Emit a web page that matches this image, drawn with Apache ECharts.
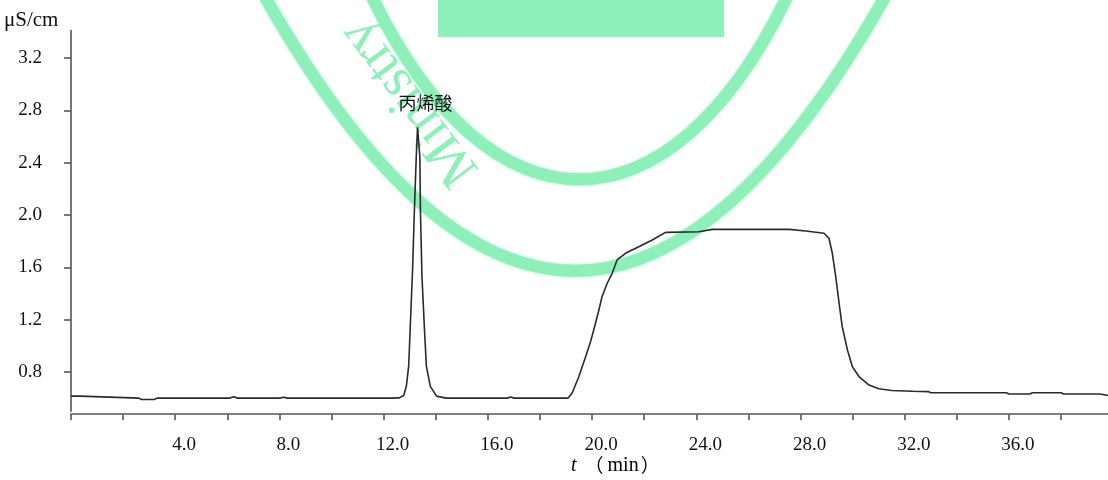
<!DOCTYPE html>
<html>
<head>
<meta charset="utf-8">
<script src="https://cdn.jsdelivr.net/npm/echarts@6/dist/echarts.min.js"></script>
<style>
html,body{margin:0;padding:0;background:#fff;}
#chart{width:1108px;height:480px;}
</style>
</head>
<body>
<div id="chart"></div>
<script>
// ---- data (t in min, conductivity in µS/cm) ----
const timeMin = [
  0, 0.35, 0.4, 2.6, 2.7, 3.2, 3.3, 6.1, 6.24, 6.4, 8.0, 8.16, 8.3, 12.3,
  12.6, 12.77, 12.87, 12.96, 13.02, 13.11, 13.18, 13.25, 13.30, 13.39, 13.41, 13.47, 13.57, 13.64, 13.79, 14.03, 14.4,
  16.75, 16.87, 17.0, 19.08,
  19.23, 19.49, 19.75, 19.94, 20.13, 20.26, 20.38, 20.58, 20.77, 20.96, 21.28, 21.79, 22.31, 22.82, 24.10, 24.61,
  27.56, 28.20, 28.90, 29.09, 29.22, 29.35, 29.48, 29.60, 29.80, 29.99, 30.25, 30.63,
  31.0, 31.5, 32.3, 32.9, 33.0, 35.9, 36.0, 36.8, 36.9, 38.0, 38.1, 39.5, 39.8
];
const conductivity = [
  0.615, 0.615, 0.600, 0.600, 0.590, 0.590, 0.600, 0.600, 0.610, 0.600, 0.600, 0.607, 0.600, 0.600,
  0.602, 0.620, 0.690, 0.845, 1.140, 1.585, 2.040, 2.440, 2.670, 2.440, 2.040, 1.530, 1.110, 0.845, 0.690, 0.615, 0.600,
  0.600, 0.608, 0.600, 0.600,
  0.637, 0.763, 0.916, 1.031, 1.172, 1.273, 1.375, 1.478, 1.554, 1.656, 1.707, 1.757, 1.809, 1.867, 1.872, 1.890,
  1.890, 1.877, 1.860, 1.822, 1.707, 1.528, 1.325, 1.146, 0.968, 0.840, 0.763, 0.700,
  0.672, 0.658, 0.652, 0.650, 0.641, 0.641, 0.631, 0.631, 0.641, 0.641, 0.631, 0.631, 0.620
];
const xTickValues = [0, 2, 4, 6, 8, 10, 12, 14, 16, 18, 20, 22, 24, 26, 28, 30, 32, 34, 36, 38];
const xLabelValues = [4, 8, 12, 16, 20, 24, 28, 32, 36];
const yLabelValues = [0.8, 1.2, 1.6, 2.0, 2.4, 2.8, 3.2];
const peakName = '丙烯酸';
const peakTime = 13.30;
const peakValue = 2.670;
const yUnit = 'μS/cm';

const seriesData = timeMin.map((t, i) => [t, conductivity[i]]);
const serif = '"Liberation Serif", "Times New Roman", serif';
const cjk = '"Noto Sans CJK SC", sans-serif';
const green = '#8ef0b9';

const chart = echarts.init(document.getElementById('chart'), null, {renderer: 'canvas'});
chart.setOption({
  animation: false,
  backgroundColor: '#fff',
  grid: {left: 71, right: 0, top: 30.5, bottom: 68.8, containLabel: false},
  xAxis: {
    type: 'value', min: 0, max: 39.8, offset: 3,
    axisLine: {show: true, lineStyle: {color: '#555', width: 1.6}},
    axisTick: {show: true, length: 6, customValues: xTickValues, lineStyle: {color: '#555', width: 1.6}},
    axisLabel: {customValues: xLabelValues, formatter: v => Number(v).toFixed(1), fontFamily: serif, fontSize: 19, color: '#111', margin: 21, padding: [0, 0, 0, 18]},
    splitLine: {show: false}
  },
  yAxis: {
    type: 'value', min: 0.5, max: 3.41,
    axisLine: {show: true, lineStyle: {color: '#555', width: 1.6}},
    axisTick: {show: true, length: 7, customValues: yLabelValues, lineStyle: {color: '#555', width: 1.6}},
    axisLabel: {customValues: yLabelValues, formatter: v => Number(v).toFixed(1), fontFamily: serif, fontSize: 19, color: '#111', margin: 29},
    splitLine: {show: false}
  },
  graphic: [
    {type: 'rect', z: -10, shape: {x: 438, y: 0, width: 286, height: 37}, style: {fill: green}},
    {type: 'bezierCurve', z: -10, shape: {x1: 372, y1: -3, cpx1: 490, cpy1: 240, cpx2: 669, cpy2: 240, x2: 787, y2: -3}, style: {fill: null, stroke: green, lineWidth: 12, shadowBlur: 3, shadowColor: green}},
    {type: 'bezierCurve', z: -10, shape: {x1: 265, y1: -3, cpx1: 472, cpy1: 362, cpx2: 678, cpy2: 362, x2: 885, y2: -3}, style: {fill: null, stroke: green, lineWidth: 12, shadowBlur: 3, shadowColor: green}},
    {type: 'text', z: -10, x: 410, y: 102, rotation: 127 * Math.PI / 180,
      style: {text: 'Ministry', font: '56px "Liberation Serif", serif', fill: green, align: 'center', verticalAlign: 'middle'}},
    {type: 'text', left: 4, top: 10, style: {text: yUnit, font: '21px "Liberation Serif", serif', fill: '#111'}},
    {type: 'text', left: 571, top: 456, style: {
      text: '{i|t}{p|（}{n|min}{q|）}',
      rich: {
        i: {fontFamily: serif, fontStyle: 'italic', fontSize: 20, color: '#111'},
        p: {fontFamily: cjk, fontSize: 19, color: '#111', padding: [0, 0, 0, 8]},
        q: {fontFamily: cjk, fontSize: 19, color: '#111', padding: [0, 0, 0, 2]},
        n: {fontFamily: serif, fontSize: 20, color: '#111', padding: [0, 0, 0, 4]}
      }
    }}
  ],
  series: [{
    type: 'line', data: seriesData, showSymbol: false, symbol: 'none',
    lineStyle: {color: '#2a2a2a', width: 1.6}, z: 5,
    markPoint: {
      symbol: 'circle', symbolSize: 0,
      data: [{coord: [peakTime, peakValue], name: peakName}],
      label: {show: true, position: 'top', formatter: peakName, offset: [8, -10], fontFamily: cjk, fontSize: 18, color: '#111'}
    }
  }]
});
</script>
</body>
</html>
